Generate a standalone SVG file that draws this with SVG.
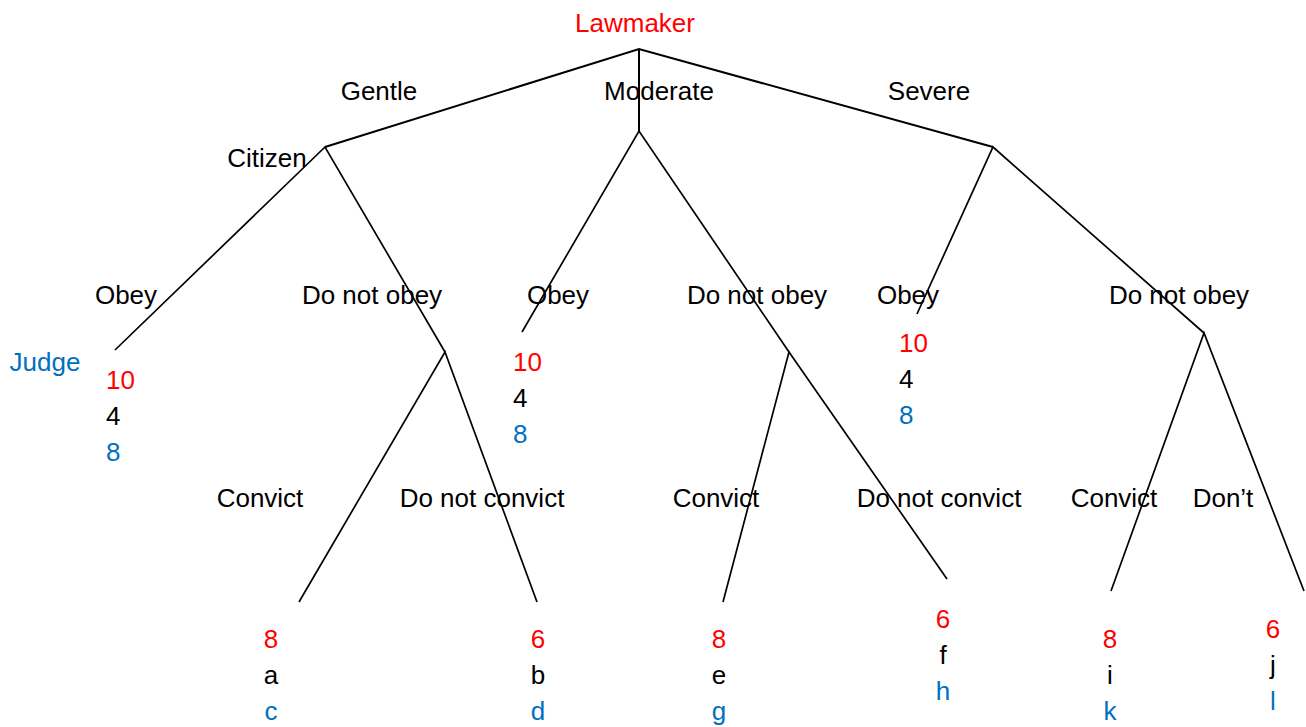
<svg xmlns="http://www.w3.org/2000/svg" width="1306" height="727" viewBox="0 0 1306 727">
<style>
text{font-family:"Liberation Sans",Arial,sans-serif;font-size:26px;fill:#000}
.r{fill:#FF0000}
.b{fill:#0070C0}
.m{text-anchor:middle}
.e{stroke:#000;stroke-width:1.7;fill:none;stroke-linecap:butt}
.t{stroke-width:2}
</style>
<rect width="1306" height="727" fill="#fff"/>
<g id="connectors">
<path class="e t" d="M325,147 L639,49 L993,147 M639,49 L639,131"/>
<path class="e" d="M115,350 L325,147 L445,352"/>
<path class="e" d="M522,332 L639,131 L789,352"/>
<path class="e" d="M917,314 L993,147 L1204,333"/>
<path class="e" d="M299,602 L445,352 L537,602"/>
<path class="e" d="M723,602 L789,352 L947,579"/>
<path class="e" d="M1111,591 L1204,333 L1304,591"/>
</g>
<g id="lawmaker"><text class="r m" x="635" y="32">Lawmaker</text></g>
<g id="edge-labels-top">
<text class="m" x="379" y="100">Gentle</text>
<text class="m" x="659" y="100">Moderate</text>
<text class="m" x="929" y="100">Severe</text>
</g>
<g id="citizen"><text class="m" x="267" y="167">Citizen</text></g>
<g id="edge-labels-citizen">
<text class="m" x="126" y="304">Obey</text>
<text class="m" x="372" y="304">Do not obey</text>
<text class="m" x="558" y="304">Obey</text>
<text class="m" x="757" y="304">Do not obey</text>
<text class="m" x="908" y="304">Obey</text>
<text class="m" x="1179" y="304">Do not obey</text>
</g>
<g id="judge"><text class="b m" x="45" y="371">Judge</text></g>
<g id="leaf-gentle-obey">
<text class="r" x="106" y="389">10</text>
<text x="106" y="425">4</text>
<text class="b" x="106" y="461">8</text>
</g>
<g id="leaf-moderate-obey">
<text class="r" x="513" y="371">10</text>
<text x="513" y="407">4</text>
<text class="b" x="513" y="443">8</text>
</g>
<g id="leaf-severe-obey">
<text class="r" x="899" y="352">10</text>
<text x="899" y="388">4</text>
<text class="b" x="899" y="424">8</text>
</g>
<g id="edge-labels-judge">
<text class="m" x="260" y="507">Convict</text>
<text class="m" x="482" y="507">Do not convict</text>
<text class="m" x="716" y="507">Convict</text>
<text class="m" x="939" y="507">Do not convict</text>
<text class="m" x="1114" y="507">Convict</text>
<text class="m" x="1223" y="507">Don’t</text>
</g>
<g id="leaf-gentle-convict">
<text class="r m" x="271" y="648">8</text>
<text class="m" x="271" y="684">a</text>
<text class="b m" x="271" y="720">c</text>
</g>
<g id="leaf-gentle-noconvict">
<text class="r m" x="538" y="648">6</text>
<text class="m" x="538" y="684">b</text>
<text class="b m" x="538" y="720">d</text>
</g>
<g id="leaf-moderate-convict">
<text class="r m" x="719" y="648">8</text>
<text class="m" x="719" y="684">e</text>
<text class="b m" x="719" y="720">g</text>
</g>
<g id="leaf-moderate-noconvict">
<text class="r m" x="943" y="628">6</text>
<text class="m" x="943" y="664">f</text>
<text class="b m" x="943" y="700">h</text>
</g>
<g id="leaf-severe-convict">
<text class="r m" x="1110" y="648">8</text>
<text class="m" x="1110" y="684">i</text>
<text class="b m" x="1110" y="720">k</text>
</g>
<g id="leaf-severe-dont">
<text class="r m" x="1273" y="638">6</text>
<text class="m" x="1273" y="674">j</text>
<text class="b m" x="1273" y="710">l</text>
</g>
</svg>
